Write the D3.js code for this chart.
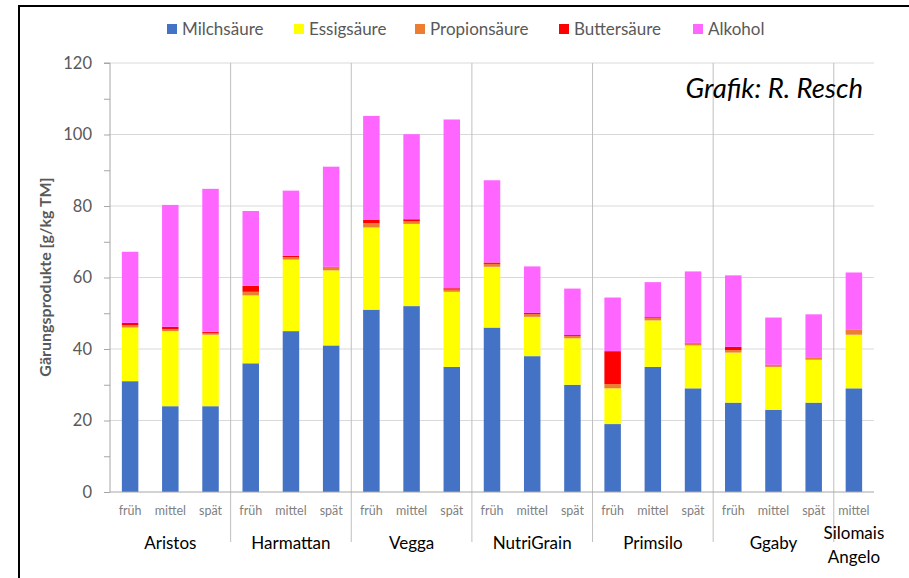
<!DOCTYPE html>
<html><head><meta charset="utf-8">
<script src="https://cdn.jsdelivr.net/npm/d3@7"></script>
<style>body{margin:0;background:#fff}svg{display:block}</style>
</head><body>
<svg id="c" width="909" height="578"></svg>
<script>
const varieties = ["Aristos","Harmattan","Vegga","NutriGrain","Primsilo","Ggaby","Silomais Angelo"];
const stages = [["früh","mittel","spät"],["früh","mittel","spät"],["früh","mittel","spät"],["früh","mittel","spät"],["früh","mittel","spät"],["früh","mittel","spät"],["mittel"]];
const seriesNames = ["Milchsäure","Essigsäure","Propionsäure","Buttersäure","Alkohol"];
const milchsaeure  = [31,24,24, 36,45,41, 51,52,35, 46,38,30, 19,35,29, 25,23,25, 29];
const essigsaeure  = [15,21,20, 19,20,21, 23,23,21, 17,11,13, 10,13,12, 14,12,12, 15];
const propionsaeure= [0.7,0.6,0.5, 1.0,0.7,0.9, 1.2,0.8,0.6, 0.8,0.8,0.6, 1.2,0.6,0.6, 0.7,0.5,0.7, 1.3];
const buttersaeure = [0.6,0.6,0.3, 1.7,0.4,0.1, 1.0,0.5,0.4, 0.4,0.3,0.3, 9.2,0.3,0.1, 0.9,0.1,0.0, 0.1];
const alkohol      = [19.9,34.1,40, 20.9,18.2,28, 29,23.8,47.2, 23,13,13, 15,9.8,20, 20,13.2,12, 16];
const yTicks = [0,20,40,60,80,100,120];
const colors = ["#4472C4","#FFFF00","#ED7D31","#FF0000","#FF66FF"];

const font = "Lato, 'Open Sans', sans-serif";
const svg = d3.select("#c");

// frame (left and top edges visible)
svg.append("line").attr("x1",19).attr("x2",909).attr("y1",6).attr("y2",6).attr("stroke","#000").attr("stroke-width",2);
svg.append("line").attr("x1",19).attr("x2",19).attr("y1",5).attr("y2",578).attr("stroke","#000").attr("stroke-width",2);

// rows
const rows = [];
varieties.forEach((v,gi)=>stages[gi].forEach(s=>rows.push({variety:v,stage:s,key:v+"|"+s})));
rows.forEach((r,i)=>{r.values=[milchsaeure[i],essigsaeure[i],propionsaeure[i],buttersaeure[i],alkohol[i]];});

const x0 = 110, x1 = 874, yTop = 63, yBot = 492;
const x = d3.scaleBand().domain(rows.map(r=>r.key)).range([x0,x1]).paddingInner(0.59).paddingOuter(0.295);
const y = d3.scaleLinear().domain([0,120]).range([yBot,yTop]);

// gridlines
svg.append("g").selectAll("line").data(yTicks.filter(t=>t>0)).join("line")
  .attr("x1",x0).attr("x2",x1).attr("y1",d=>y(d)).attr("y2",d=>y(d))
  .attr("stroke","#d9d9d9").attr("stroke-width",1);

// group separators
let idx = 0; const bounds = [];
varieties.forEach((v,gi)=>{ const start = idx; idx += stages[gi].length; bounds.push({v, start, end: idx}); });
const step = x.step();
svg.append("g").selectAll("line").data(bounds.slice(0,-1)).join("line")
  .attr("x1",d=>x0+d.end*step).attr("x2",d=>x0+d.end*step)
  .attr("y1",yTop).attr("y2",542).attr("stroke","#bfbfbf").attr("stroke-width",1);

// stacked bars
const stackData = rows.map(r=>{const o={key:r.key}; seriesNames.forEach((n,k)=>o[n]=r.values[k]); return o;});
const stack = d3.stack().keys(seriesNames)(stackData);
svg.append("g").selectAll("g").data(stack).join("g").attr("fill",(d,i)=>colors[i])
  .selectAll("rect").data(d=>d).join("rect")
  .attr("x",d=>x(d.data.key)).attr("width",x.bandwidth())
  .attr("y",d=>y(d[1])).attr("height",d=>Math.max(0,y(d[0])-y(d[1])));

// y axis
const yAxis = d3.axisLeft(y).tickValues(d3.range(0,121,10)).tickSize(6).tickFormat(d=>d%20===0?d:"");
const ga = svg.append("g").attr("transform",`translate(${x0},0)`).call(yAxis);
ga.select(".domain").attr("stroke","#a6a6a6").attr("d",`M-6,${yTop}H0V${yBot}`);
ga.selectAll(".tick line").attr("stroke","#a6a6a6");
ga.selectAll(".tick text").attr("x",-18).attr("font-family",font).attr("font-size",16.5).attr("fill","#595959");

// x axis line
svg.append("line").attr("x1",x0).attr("x2",x1).attr("y1",yBot).attr("y2",yBot).attr("stroke","#a6a6a6");

// stage labels
svg.append("g").selectAll("text").data(rows).join("text")
  .attr("x",d=>x(d.key)+x.bandwidth()/2).attr("y",515)
  .attr("text-anchor","middle").attr("font-family",font).attr("font-size",12.5).attr("fill","#7f7f7f")
  .text(d=>d.stage);

// variety labels
bounds.forEach(b=>{
  const cx = x0 + (b.start+b.end)/2*step;
  const parts = b.v.split(" ");
  if (parts.length===1) {
    svg.append("text").attr("x",cx).attr("y",549).attr("text-anchor","middle")
      .attr("font-family",font).attr("font-size",17).attr("fill","#000").text(b.v);
  } else {
    parts.forEach((p,i)=>svg.append("text").attr("x",cx).attr("y",539+i*24).attr("text-anchor","middle")
      .attr("font-family",font).attr("font-size",17).attr("fill","#000").text(p));
  }
});

// y axis title
svg.append("text").attr("transform","translate(51,277) rotate(-90)").attr("text-anchor","middle")
  .attr("font-family",font).attr("font-size",16).attr("font-weight","bold").attr("fill","#595959")
  .text("Gärungsprodukte [g/kg TM]");

// legend
const legX = [167,294,415,559,693];
const lg = svg.append("g").selectAll("g").data(seriesNames).join("g")
  .attr("transform",(d,i)=>`translate(${legX[i]},0)`);
lg.append("rect").attr("x",0).attr("y",24).attr("width",10).attr("height",10).attr("fill",(d,i)=>colors[i]);
lg.append("text").attr("x",15).attr("y",35).attr("font-family",font).attr("font-size",17).attr("fill","#595959").text(d=>d);

// credit
svg.append("text").attr("x",863).attr("y",98).attr("text-anchor","end")
  .attr("font-family",font).attr("font-size",27.5).attr("font-style","italic").attr("fill","#000")
  .text("Grafik: R. Resch");
</script>
</body></html>
